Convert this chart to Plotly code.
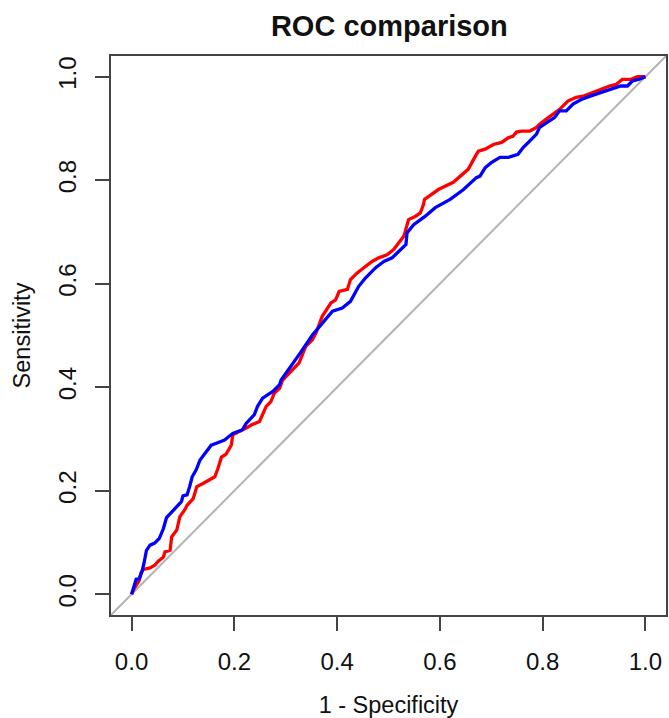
import plotly.graph_objects as go

# Red ROC curve (1 - specificity, sensitivity)
red_fpr = [0.0, 0.005, 0.015, 0.018, 0.023, 0.036, 0.045, 0.052, 0.062, 0.065, 0.075, 0.078,
           0.088, 0.094, 0.104, 0.108, 0.120, 0.127, 0.139, 0.152, 0.162, 0.168, 0.175, 0.184,
           0.194, 0.197, 0.210, 0.223, 0.233, 0.249, 0.262, 0.271, 0.278, 0.288, 0.294, 0.310,
           0.326, 0.339, 0.352, 0.359, 0.371, 0.388, 0.397, 0.404, 0.420, 0.426, 0.439, 0.452,
           0.468, 0.481, 0.497, 0.510, 0.520, 0.530, 0.539, 0.552, 0.562, 0.568, 0.570, 0.597,
           0.626, 0.655, 0.671, 0.675, 0.688, 0.704, 0.720, 0.733, 0.742, 0.749, 0.759, 0.775,
           0.788, 0.794, 0.807, 0.820, 0.833, 0.849, 0.865, 0.881, 0.897, 0.913, 0.930, 0.943,
           0.955, 0.972, 0.984, 1.0]
red_tpr = [0.0, 0.011, 0.027, 0.041, 0.048, 0.051, 0.056, 0.064, 0.072, 0.082, 0.085, 0.111,
           0.124, 0.150, 0.164, 0.172, 0.185, 0.208, 0.214, 0.221, 0.227, 0.243, 0.265, 0.271,
           0.288, 0.308, 0.314, 0.321, 0.327, 0.334, 0.363, 0.372, 0.389, 0.398, 0.414, 0.430,
           0.447, 0.479, 0.492, 0.505, 0.537, 0.563, 0.569, 0.585, 0.589, 0.608, 0.621, 0.631,
           0.643, 0.650, 0.656, 0.666, 0.679, 0.692, 0.724, 0.730, 0.737, 0.753, 0.763, 0.782,
           0.796, 0.821, 0.850, 0.856, 0.860, 0.869, 0.873, 0.882, 0.885, 0.893, 0.895, 0.895,
           0.902, 0.908, 0.918, 0.927, 0.937, 0.953, 0.960, 0.963, 0.969, 0.976, 0.982, 0.985,
           0.995, 0.995, 1.0, 1.0]

# Blue ROC curve
blue_fpr = [0.0, 0.004, 0.009, 0.015, 0.020, 0.024, 0.029, 0.036, 0.045, 0.054, 0.062, 0.068,
            0.078, 0.088, 0.097, 0.100, 0.108, 0.113, 0.118, 0.126, 0.133, 0.142, 0.155, 0.165,
            0.181, 0.197, 0.216, 0.223, 0.239, 0.245, 0.255, 0.275, 0.288, 0.291, 0.310, 0.326,
            0.352, 0.371, 0.391, 0.410, 0.426, 0.442, 0.455, 0.475, 0.491, 0.507, 0.520, 0.534,
            0.536, 0.549, 0.571, 0.591, 0.620, 0.646, 0.671, 0.678, 0.688, 0.700, 0.717, 0.733,
            0.752, 0.762, 0.778, 0.788, 0.794, 0.807, 0.823, 0.833, 0.846, 0.859, 0.875, 0.894,
            0.913, 0.933, 0.952, 0.965, 0.975, 0.988, 1.0]
blue_tpr = [0.0, 0.014, 0.029, 0.030, 0.043, 0.059, 0.085, 0.095, 0.099, 0.108, 0.127, 0.148,
            0.159, 0.169, 0.179, 0.190, 0.192, 0.208, 0.227, 0.241, 0.259, 0.271, 0.288, 0.292,
            0.298, 0.311, 0.318, 0.330, 0.347, 0.363, 0.379, 0.392, 0.405, 0.414, 0.440, 0.463,
            0.501, 0.524, 0.547, 0.553, 0.566, 0.595, 0.611, 0.631, 0.643, 0.650, 0.663, 0.676,
            0.698, 0.714, 0.730, 0.747, 0.763, 0.782, 0.805, 0.808, 0.824, 0.834, 0.844, 0.844,
            0.850, 0.863, 0.879, 0.889, 0.902, 0.911, 0.921, 0.934, 0.934, 0.947, 0.956, 0.963,
            0.969, 0.976, 0.982, 0.982, 0.992, 0.995, 1.0]

diag = [-0.04, 1.04]
tick_vals = [0.0, 0.2, 0.4, 0.6, 0.8, 1.0]
tick_text = ["0.0", "0.2", "0.4", "0.6", "0.8", "1.0"]

FONT = "Liberation Sans, Arial, Helvetica, sans-serif"

fig = go.Figure()
fig.add_trace(go.Scatter(x=diag, y=diag, mode="lines",
                         line=dict(color="#b3b3b3", width=2), hoverinfo="skip"))
fig.add_trace(go.Scatter(x=red_fpr, y=red_tpr, mode="lines",
                         line=dict(color="#ff0000", width=3.3)))
fig.add_trace(go.Scatter(x=blue_fpr, y=blue_tpr, mode="lines",
                         line=dict(color="#0000ff", width=3.3)))

axis_common = dict(range=[-0.04, 1.04], tickvals=tick_vals, ticktext=tick_text,
                   ticks="outside", ticklen=14, tickwidth=2, tickcolor="#444444",
                   showline=True, linecolor="#444444", linewidth=2, mirror=True,
                   showgrid=False, zeroline=False,
                   tickfont=dict(family=FONT, size=24, color="#111111"))

fig.update_layout(
    width=669, height=718,
    margin=dict(l=111, r=1, t=56, b=103),
    paper_bgcolor="white", plot_bgcolor="white",
    showlegend=False,
    title=dict(text="<b>ROC comparison</b>", x=0.582, xanchor="center",
               y=1 - 26 / 718, yanchor="middle",
               font=dict(family=FONT, size=29, color="#111111")),
    xaxis=dict(**axis_common, ticklabelstandoff=10,
               title=dict(text="1 - Specificity", standoff=24,
                          font=dict(family=FONT, size=23.5, color="#111111"))),
    yaxis=dict(**axis_common, tickangle=-90, ticklabelstandoff=9,
               title=dict(text="Sensitivity", standoff=17,
                          font=dict(family=FONT, size=23.5, color="#111111"))),
)

fig.write_html("out.html")
